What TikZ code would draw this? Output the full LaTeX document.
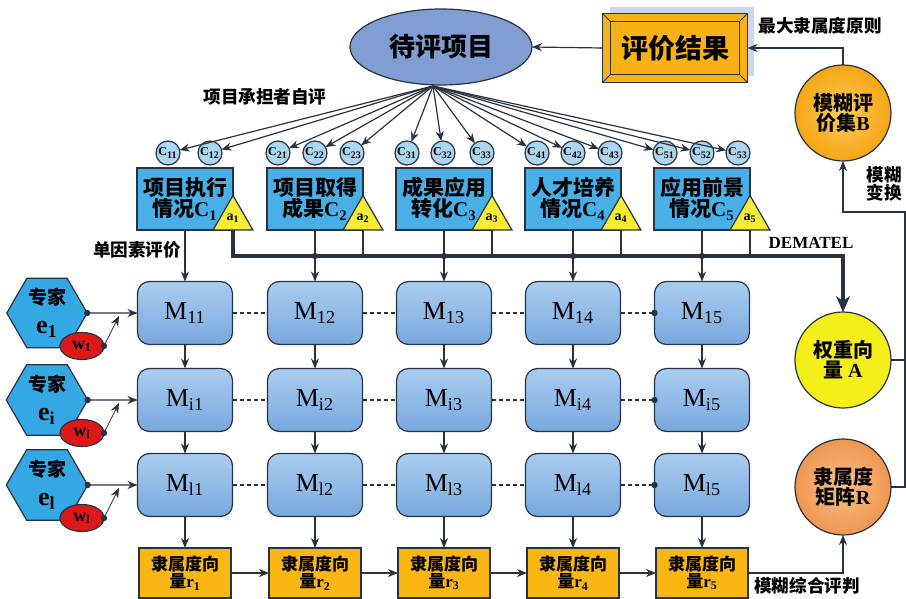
\documentclass[tikz,border=0pt]{standalone}
\usepackage{fontspec}
\setmainfont{Liberation Serif}
\newfontfamily\cjk{Noto Sans CJK SC}
\usetikzlibrary{arrows.meta,shapes.geometric}
\definecolor{edgec}{RGB}{40,50,65}
\definecolor{ellc}{RGB}{128,158,210}
\definecolor{resc}{RGB}{249,178,22}
\definecolor{shadc}{RGB}{200,215,235}
\definecolor{cboxc}{RGB}{72,176,230}
\definecolor{subc}{RGB}{172,214,238}
\definecolor{triac}{RGB}{246,236,52}
\definecolor{mtop}{RGB}{170,205,240}
\definecolor{mbot}{RGB}{120,168,222}
\definecolor{hexc}{RGB}{52,168,226}
\definecolor{wc}{RGB}{222,24,24}
\definecolor{rvc}{RGB}{250,182,18}
\definecolor{bin}{RGB}{253,205,90}
\definecolor{bout}{RGB}{245,165,20}
\definecolor{ac}{RGB}{244,238,26}
\definecolor{rin}{RGB}{249,192,135}
\definecolor{rout}{RGB}{238,150,80}
\newcommand{\lat}[1]{{\rmfamily\bfseries #1}}
\newcommand{\fsz}[1]{\fontsize{#1}{#1}\selectfont}
\tikzset{
  nodebase/.style={draw=edgec, line width=0.6pt, text=black, inner sep=0pt, outer sep=0pt},
  arr/.style={draw=edgec, line width=0.6pt, -{Stealth[length=5pt,width=4pt]}},
  link/.style={draw=edgec, line width=0.6pt},
  ell/.style={nodebase, ellipse, fill=ellc, minimum width=91pt, minimum height=38pt, font=\cjk\bfseries\fsz{13}},
  resbox/.style={nodebase, fill=resc, minimum width=72.5pt, minimum height=34.5pt, font=\cjk\bfseries\fsz{13.5}},
  cbox/.style={nodebase, fill=cboxc, minimum width=48pt, minimum height=31pt, align=center, font=\cjk\bfseries\fsz{10.5}},
  sub/.style={nodebase, circle, fill=subc, minimum size=12pt, font=\rmfamily\bfseries\fsz{6}},
  tri/.style={nodebase, regular polygon, regular polygon sides=3, fill=triac, minimum size=23pt, font=\rmfamily\bfseries\fsz{7}},
  mbox/.style={nodebase, rounded corners=6pt, top color=mtop, bottom color=mbot, minimum width=47.5pt, minimum height=31.5pt, font=\rmfamily\fsz{13}},
  expert/.style={nodebase, regular polygon, regular polygon sides=6, fill=hexc, minimum size=39pt, align=center, font=\cjk\bfseries\fsz{9.5}},
  wt/.style={nodebase, ellipse, fill=wc, minimum width=22pt, minimum height=13.5pt, font=\rmfamily\bfseries\fsz{9}},
  rvec/.style={nodebase, fill=rvc, minimum width=46pt, minimum height=25pt, align=center, font=\cjk\bfseries\fsz{8.5}},
  ball/.style={nodebase, circle, minimum size=48pt, align=center, font=\cjk\bfseries\fsz{10}},
  note/.style={font=\cjk\bfseries\fsz{8.8}, align=center, inner sep=0pt},
}
\begin{document}
\begin{tikzpicture}[x=0.5pt,y=-0.5pt]
\useasboundingbox (0,0) rectangle (906,599);

\fill[shadc] (610,7) rectangle (754,76);
\node[ell] (item) at (441,47) {待评项目};
\node[resbox] (res) at (675,48) {评价结果};
\draw[edgec, line width=0.5pt] ([shift={(4pt,-4pt)}]res.north west) rectangle ([shift={(-4pt,4pt)}]res.south east);
\draw[edgec, line width=0.5pt] (res.north west) -- ([shift={(4pt,-4pt)}]res.north west);
\draw[edgec, line width=0.5pt] (res.north east) -- ([shift={(-4pt,-4pt)}]res.north east);
\draw[edgec, line width=0.5pt] (res.south west) -- ([shift={(4pt,4pt)}]res.south west);
\draw[edgec, line width=0.5pt] (res.south east) -- ([shift={(-4pt,4pt)}]res.south east);
\draw[arr] (res.west) -- (item.east);

\node[cbox] (c1) at (185,199) {项目执行\\情况\lat{C\textsubscript{1}}};
\node[cbox] (c2) at (315,199) {项目取得\\成果\lat{C\textsubscript{2}}};
\node[cbox] (c3) at (444,199) {成果应用\\转化\lat{C\textsubscript{3}}};
\node[cbox] (c4) at (573,199) {人才培养\\情况\lat{C\textsubscript{4}}};
\node[cbox] (c5) at (702,199) {应用前景\\情况\lat{C\textsubscript{5}}};

\node[sub] (c11) at (168,153) {C\textsubscript{11}};
\node[sub] (c12) at (210,153) {C\textsubscript{12}};
\node[sub] (c21) at (278,153) {C\textsubscript{21}};
\node[sub] (c22) at (315,153) {C\textsubscript{22}};
\node[sub] (c23) at (352,153) {C\textsubscript{23}};
\node[sub] (c31) at (407,153) {C\textsubscript{31}};
\node[sub] (c32) at (443,153) {C\textsubscript{32}};
\node[sub] (c33) at (482,153) {C\textsubscript{33}};
\node[sub] (c41) at (537,153) {C\textsubscript{41}};
\node[sub] (c42) at (573,153) {C\textsubscript{42}};
\node[sub] (c43) at (610,153) {C\textsubscript{43}};
\node[sub] (c51) at (665,153) {C\textsubscript{51}};
\node[sub] (c52) at (702,153) {C\textsubscript{52}};
\node[sub] (c53) at (738,153) {C\textsubscript{53}};

\coordinate (hub) at (433,86);
\foreach \s in {c11,c12,c21,c22,c23,c31,c32,c33,c41,c42,c43,c51,c52,c53}
  \draw[arr] (hub) -- (\s);

\foreach \j in {1,...,5}
  \node[tri, anchor=south] (a\j) at (c\j.south east) {a\textsubscript{\j}};

\node[ball, inner color=bin, outer color=bout] (B) at (843,113) {模糊评\\价集\lat{B}};
\node[ball, fill=ac] (A) at (843,360) {权重向\\量 \lat{A}};
\node[ball, inner color=rin, outer color=rout] (R) at (843,487) {隶属度\\矩阵\lat{R}};

\coordinate (dem) at (843,256);
\foreach \j in {2,...,5}
  \draw[edgec, line width=1pt] (a\j.south) -- (a\j.south |- dem);
\draw[edgec, line width=1.6pt, -{Stealth[length=8pt,width=7pt]}] (a1.south) |- (dem) -- (A.north);

\foreach \j/\x in {1/185,2/315,3/444,4/573,5/702} {
  \node[mbox] (m1\j) at (\x,313) {M\textsubscript{1\j}};
  \node[mbox] (mi\j) at (\x,400) {M\textsubscript{i\j}};
  \node[mbox] (ml\j) at (\x,485) {M\textsubscript{l\j}};
  \node[rvec] (r\j) at (\x,573) {隶属度向\\量\lat{r\textsubscript{\j}}};
  \draw[arr] (c\j.south) -- (m1\j.north);
  \draw[arr] (m1\j) -- (mi\j);
  \draw[arr] (mi\j) -- (ml\j);
  \draw[arr] (ml\j) -- (r\j);
}
\foreach \j in {2,...,5}
  \fill[edgec] (c\j.south |- dem) circle (1.6pt);
\foreach \j/\k in {1/2,2/3,3/4,4/5} {
  \draw[link, dash pattern=on 2pt off 1.5pt] (m1\j) -- (m1\k);
  \draw[link, dash pattern=on 2pt off 1.5pt] (mi\j) -- (mi\k);
  \draw[link, dash pattern=on 2pt off 1.5pt] (ml\j) -- (ml\k);
  \draw[arr] (r\j) -- (r\k);
}
\foreach \r in {1,i,l}
  \fill[edgec] (m\r5.west) circle (1.6pt);

\node[expert] (e1) at (47,313) {专家\\[5pt]\lat{\fsz{13}e\textsubscript{1}}};
\node[expert] (ei) at (47,400) {专家\\[5pt]\lat{\fsz{13}e\textsubscript{i}}};
\node[expert] (el) at (47,485) {专家\\[5pt]\lat{\fsz{13}e\textsubscript{l}}};
\node[wt] (w1) at (82,346) {w\textsubscript{1}};
\node[wt] (wi) at (82,433) {w\textsubscript{i}};
\node[wt] (wl) at (82,518) {w\textsubscript{l}};
\coordinate (t1) at (119,316);
\coordinate (ti) at (119,403);
\coordinate (tl) at (119,488);
\foreach \r in {1,i,l} {
  \fill[edgec] (e\r.east) circle (1.6pt);
  \draw[arr] (e\r.east) -- (m\r1.west);
  \fill[edgec] (w\r.east) circle (1.6pt);
  \draw[arr, line width=0.4pt] (w\r.east) -- (t\r);
}

\coordinate (rt) at (905,212);
\draw[arr, line width=0.9pt] (B.north) |- (res.east);
\draw[arr, line width=0.9pt] (R.east) -| (rt) -| (B.south);
\draw[link, line width=0.9pt] (A.east) -- (A.east -| rt);
\draw[arr, line width=0.9pt] (r5.east) -| (R.south);

\node[note] (selfeval) at (265,97) {项目承担者自评};
\node[note] (maxrule) at (820,26) {最大隶属度原则};
\node[note] (single) at (137,250) {单因素评价};
\node[note] (fuzzytr) at (884,184) {模糊\\变换};
\node[note] (fuzzyev) at (807,586) {模糊综合评判};
\node[font=\rmfamily\bfseries\fsz{8.5}, inner sep=0pt] (dematel) at (811,243) {DEMATEL};
\end{tikzpicture}
\end{document}
